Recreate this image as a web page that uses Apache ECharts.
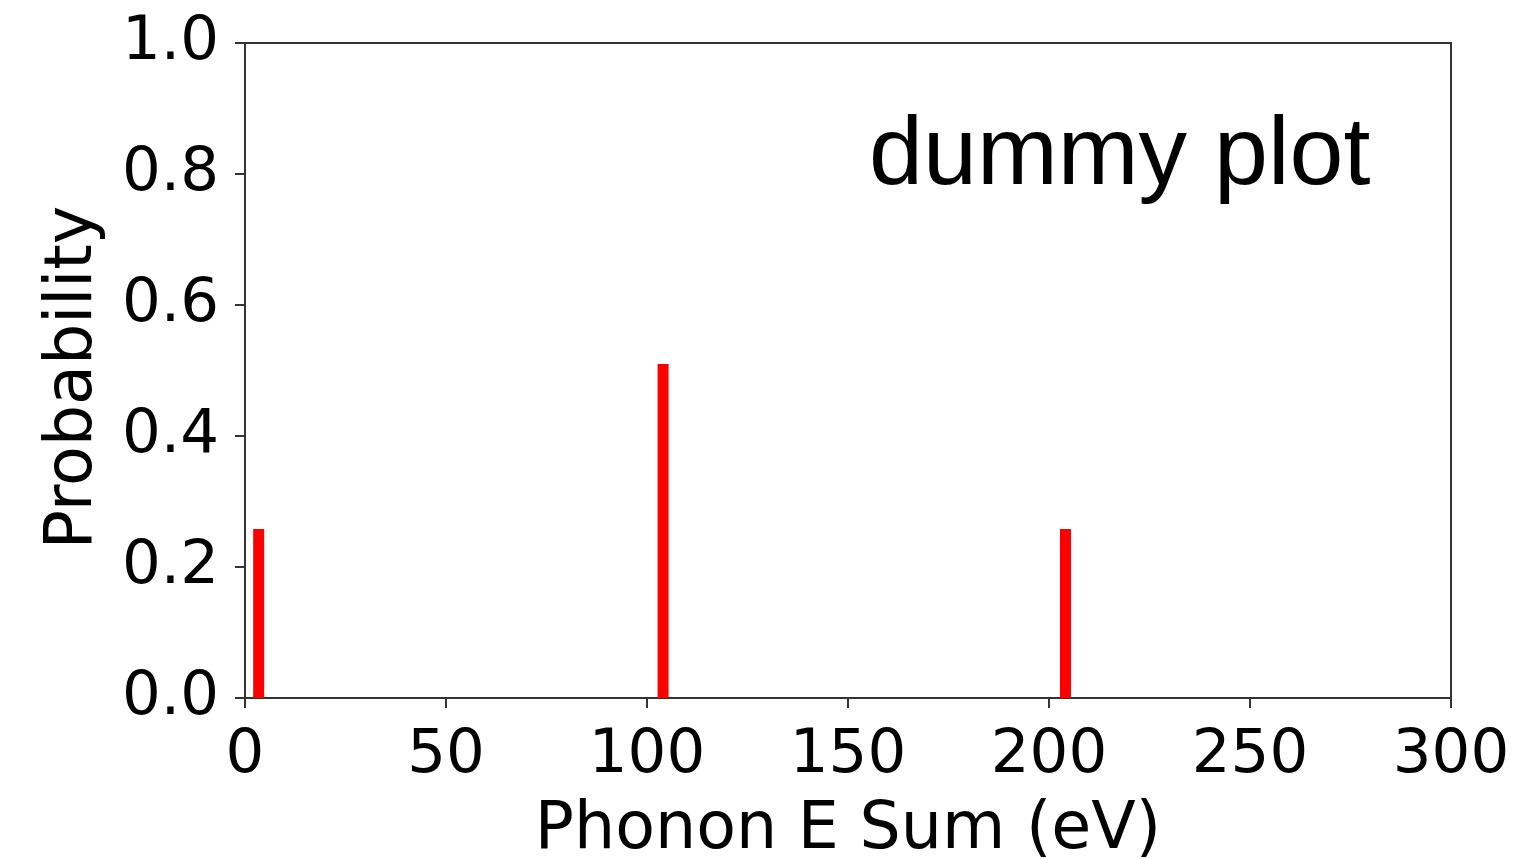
<!DOCTYPE html>
<html>
<head>
	<meta charset="utf-8" />
	<title>dummy plot</title>
	<style>
		* { padding: 0; margin: 0; }
		html, body { width: 100%; height: 100%; background: #fff; }
	</style>
</head>
<body>
	<div id="main" style="width:1527px;height:859px;"></div>
</body>
<script src="https://cdn.jsdelivr.net/npm/echarts@6/dist/echarts.min.js"></script>
<script type="text/javascript">
	// bar positions (eV) and heights (probability)
	var energies = [3.4, 104.0, 204.1];
	var probabilities = [0.258, 0.51, 0.258];
	var xTicks = [0, 50, 100, 150, 200, 250, 300];
	var yTicks = [0.0, 0.2, 0.4, 0.6, 0.8, 1.0];

	var chartDom = document.getElementById('main');
	var myChart = echarts.init(chartDom);

	var points = energies.map(function (e, i) {
		return [e, probabilities[i]];
	});

	var tickFont = 'DejaVu Sans';
	var option = {
		backgroundColor: '#fff',
		animation: false,
		title: {
			text: 'dummy plot',
			left: 869,
			top: 109,
			padding: 0,
			textStyle: {
				fontFamily: 'Liberation Sans',
				fontSize: 97,
				fontWeight: 'normal',
				color: '#000'
			}
		},
		grid: {
			left: 245,
			right: 76,
			top: 43,
			bottom: 161,
			outerBoundsMode: 'none', // keep the plot box fixed
			containLabel: false,
			show: true,
			borderColor: '#333',
			borderWidth: 2,
			backgroundColor: 'transparent'
		},
		xAxis: {
			type: 'value',
			min: xTicks[0],
			max: xTicks[xTicks.length - 1],
			interval: 50,
			name: 'Phonon E Sum (eV)',
			nameLocation: 'middle',
			nameGap: 101,
			nameTextStyle: { fontFamily: tickFont, fontSize: 65, color: '#000' },
			axisLine: { lineStyle: { color: '#333', width: 2 } },
			axisTick: { inside: false, length: 10, lineStyle: { color: '#333', width: 2 } },
			axisLabel: { fontFamily: tickFont, fontSize: 61, color: '#000', margin: 28 },
			splitLine: { show: false }
		},
		yAxis: {
			type: 'value',
			min: yTicks[0],
			max: yTicks[yTicks.length - 1],
			interval: 0.2,
			name: 'Probability',
			nameLocation: 'middle',
			nameRotate: 90,
			nameGap: 138,
			nameTextStyle: { fontFamily: tickFont, fontSize: 65, color: '#000', padding: [0, 14, 0, 0] },
			axisLine: { show: true, lineStyle: { color: '#333', width: 2 } },
			axisTick: { show: true, inside: false, length: 10, lineStyle: { color: '#333', width: 2 } },
			axisLabel: {
				fontFamily: tickFont, fontSize: 61, color: '#000', margin: 26,
				formatter: function (v) { return v.toFixed(1); }
			},
			splitLine: { show: false }
		},
		series: [
			{
				type: 'bar',
				data: points,
				barWidth: 11,
				itemStyle: { color: '#ff0000' }
			}
		]
	};
	myChart.setOption(option);
</script>
</html>
